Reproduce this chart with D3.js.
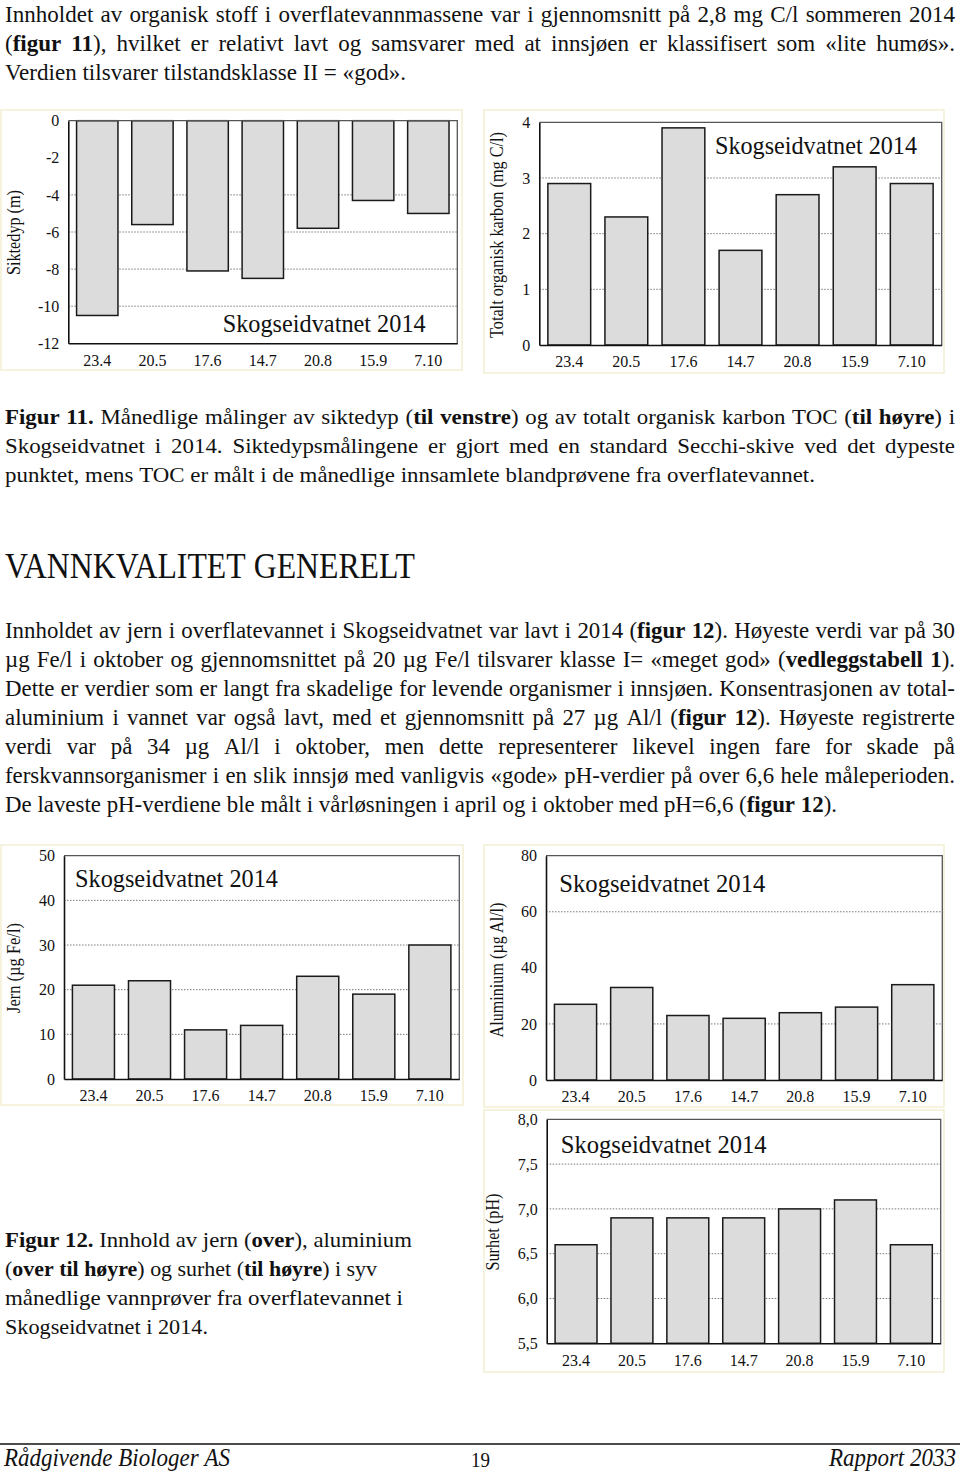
<!DOCTYPE html>
<html><head><meta charset="utf-8">
<script src="https://cdn.jsdelivr.net/npm/d3@7"></script>
<style>
body{margin:0;background:#fff}
svg{display:block}
text{font-family:"Liberation Serif","Times New Roman",serif;fill:#111}
</style>
</head><body>
<svg id="page" width="960" height="1471"></svg>
<script>
// ---------- DATA ----------
const dates = ["23.4","20.5","17.6","14.7","20.8","15.9","7.10"];
const siktedyp = [-10.5,-5.6,-8.1,-8.5,-5.8,-4.3,-5.0];
const toc = [2.9,2.3,3.9,1.7,2.7,3.2,2.9];
const jern = [21,22,11,12,23,19,30];
const aluminium = [27,33,23,22,24,26,34];
const ph = [6.6,6.9,6.9,6.9,7.0,7.1,6.6];

const siktTicks = [0,-2,-4,-6,-8,-10,-12];
const siktGrid = [-4,-6,-8,-10];
const tocTicks = [0,1,2,3,4];
const tocGrid = [1,2,3];
const jernTicks = [0,10,20,30,40,50];
const jernGrid = [10,20,30,40];
const alTicks = [0,20,40,60,80];
const alGrid = [20,60];
const phTicks = [5.5,6.0,6.5,7.0,7.5,8.0];
const phGrid = [6.0,6.5,7.0,7.5];

const chartTitle = "Skogseidvatnet 2014";

const para1 = [
  "Innholdet av organisk stoff i overflatevannmassene var i gjennomsnitt på 2,8 mg C/l sommeren 2014",
  "(**figur 11**), hvilket er relativt lavt og samsvarer med at innsjøen er klassifisert som «lite humøs».",
  "Verdien tilsvarer tilstandsklasse II = «god»."
];
const cap11 = [
  "**Figur 11.** Månedlige målinger av siktedyp (**til venstre**) og av totalt organisk karbon TOC (**til høyre**) i",
  "Skogseidvatnet i 2014. Siktedypsmålingene er gjort med en standard Secchi-skive ved det dypeste",
  "punktet, mens TOC er målt i de månedlige innsamlete blandprøvene fra overflatevannet."
];
const heading = "VANNKVALITET GENERELT";
const para2 = [
  "Innholdet av jern i overflatevannet i Skogseidvatnet var lavt i 2014 (**figur 12**). Høyeste verdi var på 30",
  "µg Fe/l i oktober og gjennomsnittet på 20 µg Fe/l tilsvarer klasse I= «meget god» (**vedleggstabell 1**).",
  "Dette er verdier som er langt fra skadelige for levende organismer i innsjøen. Konsentrasjonen av total-",
  "aluminium i vannet var også lavt, med et gjennomsnitt på 27 µg Al/l (**figur 12**). Høyeste registrerte",
  "verdi var på 34 µg Al/l i oktober, men dette representerer likevel ingen fare for skade på",
  "ferskvannsorganismer i en slik innsjø med vanligvis «gode» pH-verdier på over 6,6 hele måleperioden.",
  "De laveste pH-verdiene ble målt i vårløsningen i april og i oktober med pH=6,6 (**figur 12**)."
];
const cap12 = [
  "**Figur 12.** Innhold av jern (**over**), aluminium",
  "(**over til høyre**) og surhet (**til høyre**) i syv",
  "månedlige vannprøver fra overflatevannet i",
  "Skogseidvatnet i 2014."
];
const footer = ["Rådgivende Biologer AS","19","Rapport 2033"];

// ---------- TEXT LAYOUT ----------
const svg = d3.select("#page");

function parseLine(str){
  const segs=[];
  str.split("**").forEach((p,i)=>{ if(p) segs.push({t:p,b:i%2===1}); });
  const words=[[]];
  segs.forEach(s=>{
    s.t.split(" ").forEach((w,j)=>{
      if(j>0) words.push([]);
      if(w) words[words.length-1].push({t:w,b:s.b});
    });
  });
  return words.filter(w=>w.length);
}

function layoutLine(g, str, o){
  const words = parseLine(str);
  const nodes = words.map(word=>{
    const t = g.append("text").style("font-size",o.fs+"px");
    if(o.italic) t.style("font-style","italic");
    word.forEach(seg=>{
      const ts = t.append("tspan").text(seg.t);
      if(seg.b) ts.style("font-weight","bold");
    });
    return t;
  });
  const widths = nodes.map(n=>n.node().getComputedTextLength());
  const sum = d3.sum(widths);
  const sp = 0.25*o.fs;
  const n = Math.max(1,words.length-1);
  let scale, gap;
  if(o.justify){
    scale = o.s;
    gap = (o.w - scale*sum)/n;
    if(gap < scale*sp*0.7){ scale = o.w/(sum+n*sp*0.7); gap = scale*sp*0.7; }
  } else {
    scale = o.w/(sum + (words.length-1)*sp);
    gap = scale*sp;
  }
  let cx = o.x;
  nodes.forEach((nd,i)=>{
    nd.attr("transform",`translate(${cx},${o.y}) scale(${scale},1)`);
    cx += widths[i]*scale + gap;
  });
  return scale;
}

function paragraph(lines, o){
  const g = svg.append("g");
  const last = lines.length-1;
  const s = layoutLine(g, lines[last], {x:o.x, y:o.y0+last*o.lh, w:o.lastW, fs:o.fs, justify:false});
  lines.slice(0,last).forEach((l,i)=>{
    layoutLine(g, l, {x:o.x, y:o.y0+i*o.lh, w:o.w, fs:o.fs, justify:true, s:s});
  });
}

paragraph(para1, {x:5, y0:22, lh:29, fs:23, w:950, lastW:401});
paragraph(cap11, {x:5, y0:424, lh:29, fs:22, w:950, lastW:810});
layoutLine(svg.append("g"), heading, {x:5, y:578, w:410, fs:35, justify:false});
paragraph(para2, {x:5, y0:638, lh:29, fs:23, w:950, lastW:832});

const cap12Ends = [412,377,403,208];
const gc = svg.append("g");
cap12.forEach((l,i)=>layoutLine(gc, l, {x:5, y:1247+i*29, w:cap12Ends[i]-5, fs:20.5, justify:false}));

// footer
svg.append("line").attr("x1",0).attr("x2",960).attr("y1",1444).attr("y2",1444).attr("stroke","#111").attr("stroke-width",1.6);
const gf = svg.append("g");
layoutLine(gf, footer[0], {x:4, y:1466, w:226, fs:26, italic:true, justify:false});
layoutLine(gf, footer[1], {x:471, y:1467, w:19, fs:22, justify:false});
layoutLine(gf, footer[2], {x:829, y:1466, w:127, fs:26, italic:true, justify:false});

// ---------- CHARTS ----------
function barChart(c){
  const g = svg.append("g");
  g.append("rect").attr("x",c.frame[0]).attr("y",c.frame[1])
    .attr("width",c.frame[2]-c.frame[0]).attr("height",c.frame[3]-c.frame[1])
    .attr("fill","none").attr("stroke","#f2efd2").attr("stroke-width",1.5);
  const x = d3.scaleBand().domain(c.cats).range([c.left,c.right]).paddingInner(0.25).paddingOuter(0.15);
  const y = d3.scaleLinear().domain(c.domain).range([c.bottom,c.top]);
  g.selectAll("line.grid").data(c.grid).join("line").attr("class","grid")
    .attr("x1",c.left).attr("x2",c.right).attr("y1",d=>y(d)).attr("y2",d=>y(d))
    .attr("stroke","#7a7a7a").attr("stroke-width",1).attr("stroke-dasharray","1.5,1.5");
  g.selectAll("rect.bar").data(c.values).join("rect").attr("class","bar")
    .attr("x",(d,i)=>x(c.cats[i])).attr("width",x.bandwidth())
    .attr("y",d=>Math.min(y(d),y(c.base))).attr("height",d=>Math.abs(y(d)-y(c.base)))
    .attr("fill","#dcdcdc").attr("stroke","#1a1a1a").attr("stroke-width",1.5);
  g.append("path").attr("d",`M${c.left},${c.top}H${c.right}V${c.bottom}`)
    .attr("fill","none").attr("stroke","#555").attr("stroke-width",1.3);
  const ya = g.append("g").attr("transform",`translate(${c.left},0)`)
    .call(d3.axisLeft(y).tickValues(c.ticks).tickFormat(c.fmt).tickSize(0).tickPadding(9));
  const xa = g.append("g").attr("transform",`translate(0,${c.bottom})`)
    .call(d3.axisBottom(x).tickSize(0).tickPadding(11));
  [ya,xa].forEach(a=>{
    a.attr("font-family",null).attr("font-size",null);
    a.select(".domain").attr("stroke","#111").attr("stroke-width",1.6);
    a.selectAll("text").style("font-size","16px").attr("fill","#111");
  });
  g.append("text").attr("x",c.titleX).attr("y",c.titleY).style("font-size","26px")
    .attr("textLength",c.titleLen).attr("lengthAdjust","spacingAndGlyphs").text(chartTitle);
  g.append("text").attr("transform",`translate(${c.labX},${c.labY}) rotate(-90)`)
    .attr("text-anchor","middle").attr("dy","0.35em").style("font-size","18.5px")
    .attr("textLength",c.labLen).attr("lengthAdjust","spacingAndGlyphs").text(c.label);
}

const fInt = d => String(d), fComma = v => d3.format(".1f")(v).replace(".",",");

barChart({cats:dates, values:siktedyp, base:0, domain:[-12,0], ticks:siktTicks, grid:siktGrid, fmt:fInt,
  left:68.3, right:457.3, top:120.7, bottom:343.3, frame:[1,110,462,370],
  titleX:222.7, titleY:332, titleLen:203, label:"Siktedyp (m)", labX:14, labY:232.5, labLen:85});
barChart({cats:dates, values:toc, base:0, domain:[0,4], ticks:tocTicks, grid:tocGrid, fmt:fInt,
  left:539.3, right:941.7, top:122.3, bottom:345, frame:[484,110,944,373],
  titleX:715, titleY:154.3, titleLen:202, label:"Totalt organisk karbon (mg C/l)", labX:496.7, labY:235, labLen:206});
barChart({cats:dates, values:jern, base:0, domain:[0,50], ticks:jernTicks, grid:jernGrid, fmt:fInt,
  left:64, right:459.3, top:855.7, bottom:1079, frame:[1,845,463,1105],
  titleX:75, titleY:886.7, titleLen:203, label:"Jern (µg Fe/l)", labX:14, labY:968, labLen:90});
barChart({cats:dates, values:aluminium, base:0, domain:[0,80], ticks:alTicks, grid:alGrid, fmt:fInt,
  left:546, right:942.3, top:855.7, bottom:1080, frame:[484,845,944,1107],
  titleX:559.3, titleY:891.7, titleLen:206, label:"Aluminium (µg Al/l)", labX:496.7, labY:970, labLen:135});
barChart({cats:dates, values:ph, base:5.5, domain:[5.5,8.0], ticks:phTicks, grid:phGrid, fmt:fComma,
  left:546.7, right:940.7, top:1119.3, bottom:1343.3, frame:[484,1110,944,1372],
  titleX:560.7, titleY:1152.7, titleLen:206, label:"Surhet (pH)", labX:492.7, labY:1232, labLen:77});
</script>
</body></html>
